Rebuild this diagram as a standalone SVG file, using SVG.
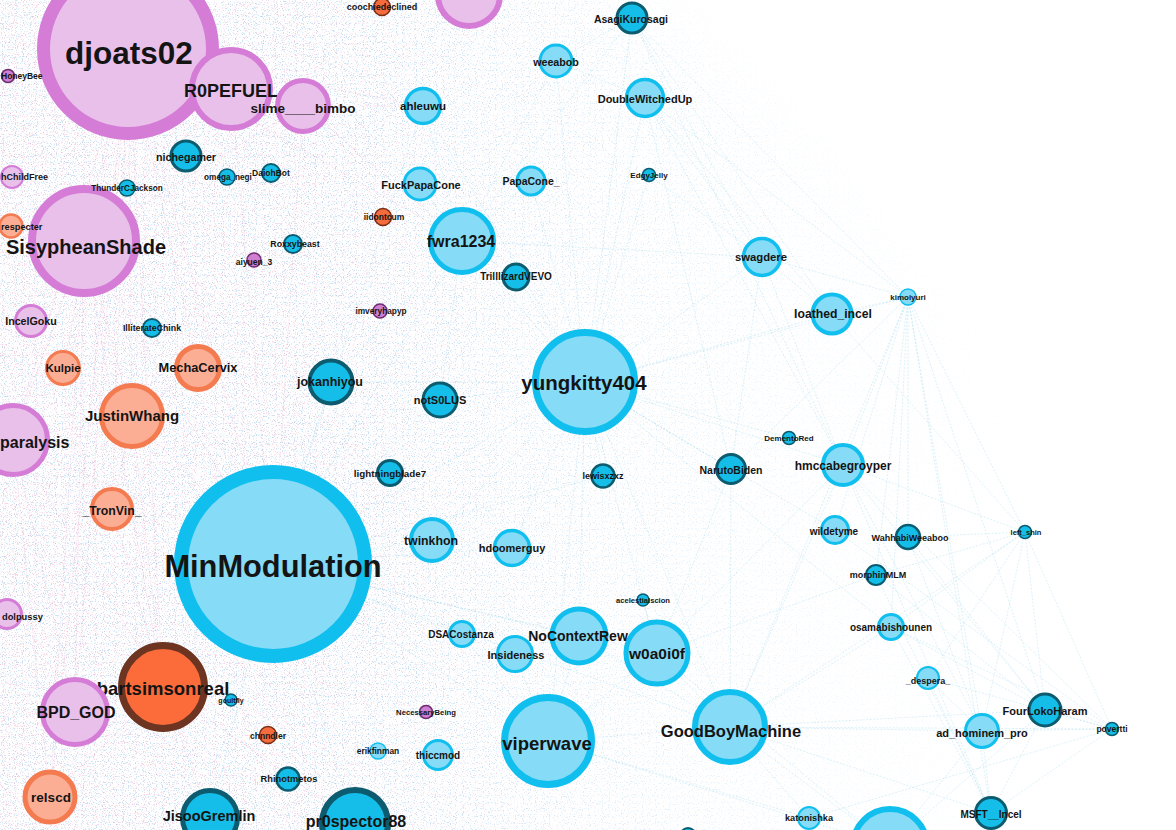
<svg xmlns="http://www.w3.org/2000/svg" width="1176" height="830" viewBox="0 0 1176 830">
<style>
text{font-family:"Liberation Sans",Arial,sans-serif;font-weight:bold;fill:#141414;text-anchor:middle}
text.s{text-anchor:start}
.lb{fill:#86dbf7;stroke:#11bfee}
.db{fill:#15bee8;stroke:#0c5b6f}
.pu{fill:#e9c0ea;stroke:#d47cd6}
.or{fill:#fcae95;stroke:#f47a4f}
.ro{fill:#f46c3d;stroke:#7b2e14}
.sp{fill:#cf7fd1;stroke:#6d2c6f}
.e{stroke:#6fc2e0;stroke-width:0.6;stroke-opacity:0.4;stroke-dasharray:2 1.5;fill:none}
.p{stroke:#e08cc0;stroke-width:0.6;stroke-opacity:0.4;stroke-dasharray:2 1.5;fill:none}
</style>
<defs>
<filter id="fP" filterUnits="userSpaceOnUse" x="0" y="0" width="1176" height="830" color-interpolation-filters="sRGB">
<feTurbulence type="fractalNoise" baseFrequency="0.9" numOctaves="1" seed="7"/>
<feColorMatrix type="matrix" values="0 0 0 0 0.9  0 0 0 0 0.5  0 0 0 0 0.68  9 0 0 0 -5.3"/>
</filter>
<filter id="fB" filterUnits="userSpaceOnUse" x="0" y="0" width="1176" height="830" color-interpolation-filters="sRGB">
<feTurbulence type="fractalNoise" baseFrequency="0.85" numOctaves="1" seed="21"/>
<feColorMatrix type="matrix" values="0 0 0 0 0.3  0 0 0 0 0.62  0 0 0 0 0.85  0 9 0 0 -5.2"/>
</filter>
<filter id="blur" x="-20%" y="-20%" width="140%" height="140%"><feGaussianBlur stdDeviation="35"/></filter>
<linearGradient id="gP" x1="0" y1="0" x2="1" y2="0">
<stop offset="0" stop-color="#fff" stop-opacity="0.9"/>
<stop offset="0.25" stop-color="#fff" stop-opacity="0.75"/>
<stop offset="0.4" stop-color="#fff" stop-opacity="0.3"/>
<stop offset="0.55" stop-color="#fff" stop-opacity="0.05"/>
<stop offset="0.7" stop-color="#fff" stop-opacity="0"/>
</linearGradient>
<linearGradient id="gB" x1="0" y1="0" x2="1" y2="0">
<stop offset="0" stop-color="#fff" stop-opacity="0.75"/>
<stop offset="0.35" stop-color="#fff" stop-opacity="0.8"/>
<stop offset="0.55" stop-color="#fff" stop-opacity="0.45"/>
<stop offset="0.75" stop-color="#fff" stop-opacity="0.15"/>
<stop offset="0.92" stop-color="#fff" stop-opacity="0"/>
</linearGradient>
<mask id="mP" maskUnits="userSpaceOnUse" x="0" y="0" width="1176" height="830">
<rect width="1176" height="830" fill="url(#gP)"/>
</mask>
<mask id="mB" maskUnits="userSpaceOnUse" x="0" y="0" width="1176" height="830">
<path d="M-60,-60 L560,-60 L780,120 L1010,330 L1150,720 L1080,900 L-60,900 Z" fill="url(#gB)" filter="url(#blur)"/>
</mask>
</defs>
<rect width="1176" height="830" fill="#fff"/>
<g id="haze">
<rect width="1176" height="830" filter="url(#fB)" mask="url(#mB)" opacity="0.38"/>
<rect width="1176" height="830" filter="url(#fP)" mask="url(#mP)" opacity="0.36"/>
</g>
<g id="connectors">
<line class="e" x1="908" y1="297" x2="832" y2="314"/>
<line class="e" x1="908" y1="297" x2="843" y2="465"/>
<line class="e" x1="908" y1="297" x2="908" y2="537"/>
<line class="e" x1="908" y1="297" x2="876" y2="575"/>
<line class="e" x1="908" y1="297" x2="1045" y2="710"/>
<line class="e" x1="908" y1="297" x2="982" y2="731"/>
<line class="e" x1="908" y1="297" x2="762" y2="257"/>
<line class="e" x1="908" y1="297" x2="585" y2="382"/>
<line class="e" x1="908" y1="297" x2="1025" y2="532"/>
<line class="e" x1="908" y1="297" x2="991" y2="813"/>
<line class="e" x1="908" y1="297" x2="891" y2="627"/>
<line class="e" x1="908" y1="297" x2="835" y2="530"/>
<line class="e" x1="908" y1="297" x2="731" y2="469"/>
<line class="e" x1="908" y1="297" x2="730" y2="727"/>
<line class="e" x1="908" y1="297" x2="645" y2="98"/>
<line class="e" x1="908" y1="297" x2="632" y2="18"/>
<line class="e" x1="1025" y1="532" x2="908" y2="537"/>
<line class="e" x1="1025" y1="532" x2="843" y2="465"/>
<line class="e" x1="1025" y1="532" x2="1045" y2="710"/>
<line class="e" x1="1025" y1="532" x2="982" y2="731"/>
<line class="e" x1="1025" y1="532" x2="876" y2="575"/>
<line class="e" x1="1025" y1="532" x2="730" y2="727"/>
<line class="e" x1="1025" y1="532" x2="1112" y2="729"/>
<line class="e" x1="1025" y1="532" x2="891" y2="627"/>
<line class="e" x1="1025" y1="532" x2="928" y2="678"/>
<line class="e" x1="1025" y1="532" x2="832" y2="314"/>
<line class="e" x1="1112" y1="729" x2="1045" y2="710"/>
<line class="e" x1="1112" y1="729" x2="982" y2="731"/>
<line class="e" x1="1112" y1="729" x2="991" y2="813"/>
<line class="e" x1="1112" y1="729" x2="891" y2="627"/>
<line class="e" x1="1112" y1="729" x2="928" y2="678"/>
<line class="e" x1="1112" y1="729" x2="730" y2="727"/>
<line class="e" x1="1112" y1="729" x2="835" y2="530"/>
<line class="e" x1="1112" y1="729" x2="843" y2="465"/>
<line class="e" x1="1112" y1="729" x2="809" y2="818"/>
<line class="e" x1="762" y1="257" x2="632" y2="18"/>
<line class="e" x1="762" y1="257" x2="645" y2="98"/>
<line class="e" x1="762" y1="257" x2="585" y2="382"/>
<line class="e" x1="762" y1="257" x2="832" y2="314"/>
<line class="e" x1="762" y1="257" x2="462" y2="241"/>
<line class="e" x1="762" y1="257" x2="649" y2="175"/>
<line class="e" x1="762" y1="257" x2="843" y2="465"/>
<line class="e" x1="762" y1="257" x2="731" y2="469"/>
<line class="e" x1="632" y1="18" x2="832" y2="314"/>
<line class="e" x1="632" y1="18" x2="585" y2="382"/>
<line class="e" x1="632" y1="18" x2="462" y2="241"/>
<line class="e" x1="632" y1="18" x2="843" y2="465"/>
<line class="e" x1="645" y1="98" x2="832" y2="314"/>
<line class="e" x1="645" y1="98" x2="843" y2="465"/>
<line class="e" x1="645" y1="98" x2="585" y2="382"/>
<line class="e" x1="645" y1="98" x2="731" y2="469"/>
<line class="e" x1="585" y1="382" x2="462" y2="241"/>
<line class="e" x1="585" y1="382" x2="440" y2="400"/>
<line class="e" x1="585" y1="382" x2="331" y2="382"/>
<line class="e" x1="585" y1="382" x2="273" y2="564"/>
<line class="e" x1="585" y1="382" x2="731" y2="469"/>
<line class="e" x1="585" y1="382" x2="603" y2="476"/>
<line class="e" x1="585" y1="382" x2="432" y2="540"/>
<line class="e" x1="585" y1="382" x2="512" y2="548"/>
<line class="e" x1="585" y1="382" x2="579" y2="636"/>
<line class="e" x1="585" y1="382" x2="657" y2="653"/>
<line class="e" x1="585" y1="382" x2="730" y2="727"/>
<line class="e" x1="585" y1="382" x2="548" y2="741"/>
<line class="e" x1="585" y1="382" x2="835" y2="530"/>
<line class="e" x1="585" y1="382" x2="789" y2="438"/>
<line class="e" x1="585" y1="382" x2="843" y2="465"/>
<line class="e" x1="585" y1="382" x2="832" y2="314"/>
<line class="e" x1="585" y1="382" x2="891" y2="627"/>
<line class="e" x1="273" y1="564" x2="331" y2="382"/>
<line class="e" x1="273" y1="564" x2="440" y2="400"/>
<line class="e" x1="273" y1="564" x2="432" y2="540"/>
<line class="e" x1="273" y1="564" x2="548" y2="741"/>
<line class="e" x1="273" y1="564" x2="579" y2="636"/>
<line class="e" x1="273" y1="564" x2="657" y2="653"/>
<line class="e" x1="273" y1="564" x2="730" y2="727"/>
<line class="e" x1="273" y1="564" x2="462" y2="634"/>
<line class="e" x1="273" y1="564" x2="462" y2="241"/>
<line class="e" x1="273" y1="564" x2="423" y2="106"/>
<line class="e" x1="273" y1="564" x2="355" y2="823"/>
<line class="e" x1="273" y1="564" x2="210" y2="818"/>
<line class="e" x1="273" y1="564" x2="512" y2="548"/>
<line class="e" x1="273" y1="564" x2="603" y2="476"/>
<line class="e" x1="730" y1="727" x2="657" y2="653"/>
<line class="e" x1="730" y1="727" x2="579" y2="636"/>
<line class="e" x1="730" y1="727" x2="991" y2="813"/>
<line class="e" x1="730" y1="727" x2="809" y2="818"/>
<line class="e" x1="730" y1="727" x2="982" y2="731"/>
<line class="e" x1="730" y1="727" x2="1045" y2="710"/>
<line class="e" x1="730" y1="727" x2="891" y2="627"/>
<line class="e" x1="730" y1="727" x2="890" y2="846"/>
<line class="e" x1="730" y1="727" x2="548" y2="741"/>
<line class="e" x1="730" y1="727" x2="731" y2="469"/>
<line class="e" x1="730" y1="727" x2="843" y2="465"/>
<line class="e" x1="548" y1="741" x2="579" y2="636"/>
<line class="e" x1="548" y1="741" x2="657" y2="653"/>
<line class="e" x1="548" y1="741" x2="809" y2="818"/>
<line class="e" x1="548" y1="741" x2="890" y2="846"/>
<line class="e" x1="548" y1="741" x2="515" y2="654"/>
<line class="e" x1="548" y1="741" x2="462" y2="634"/>
<line class="e" x1="657" y1="653" x2="731" y2="469"/>
<line class="e" x1="657" y1="653" x2="843" y2="465"/>
<line class="e" x1="657" y1="653" x2="643" y2="600"/>
<line class="e" x1="657" y1="653" x2="876" y2="575"/>
<line class="e" x1="657" y1="653" x2="890" y2="846"/>
<line class="e" x1="462" y1="241" x2="556" y2="61"/>
<line class="e" x1="462" y1="241" x2="531" y2="181"/>
<line class="e" x1="462" y1="241" x2="420" y2="184"/>
<line class="e" x1="462" y1="241" x2="423" y2="106"/>
<line class="e" x1="462" y1="241" x2="516" y2="277"/>
<line class="e" x1="462" y1="241" x2="440" y2="400"/>
<line class="e" x1="462" y1="241" x2="331" y2="382"/>
<line class="e" x1="556" y1="61" x2="632" y2="18"/>
<line class="e" x1="556" y1="61" x2="645" y2="98"/>
<line class="e" x1="556" y1="61" x2="585" y2="382"/>
<line class="e" x1="531" y1="181" x2="585" y2="382"/>
<line class="e" x1="423" y1="106" x2="585" y2="382"/>
<line class="e" x1="649" y1="175" x2="585" y2="382"/>
<line class="e" x1="516" y1="277" x2="585" y2="382"/>
<line class="e" x1="843" y1="465" x2="1045" y2="710"/>
<line class="e" x1="843" y1="465" x2="982" y2="731"/>
<line class="e" x1="843" y1="465" x2="991" y2="813"/>
<line class="e" x1="908" y1="537" x2="1045" y2="710"/>
<line class="e" x1="908" y1="537" x2="982" y2="731"/>
<line class="e" x1="876" y1="575" x2="991" y2="813"/>
<line class="e" x1="876" y1="575" x2="1045" y2="710"/>
<line class="e" x1="891" y1="627" x2="1045" y2="710"/>
<line class="e" x1="891" y1="627" x2="991" y2="813"/>
<line class="e" x1="928" y1="678" x2="982" y2="731"/>
<line class="e" x1="928" y1="678" x2="991" y2="813"/>
<line class="e" x1="982" y1="731" x2="991" y2="813"/>
<line class="e" x1="982" y1="731" x2="890" y2="846"/>
<line class="e" x1="1045" y1="710" x2="991" y2="813"/>
<line class="e" x1="1045" y1="710" x2="890" y2="846"/>
<line class="p" x1="128" y1="49" x2="84" y2="241"/>
<line class="p" x1="128" y1="49" x2="132" y2="416"/>
<line class="p" x1="128" y1="49" x2="163" y2="687"/>
<line class="p" x1="128" y1="49" x2="75" y2="712"/>
<line class="p" x1="128" y1="49" x2="13" y2="440"/>
<line class="p" x1="128" y1="49" x2="231" y2="89"/>
<line class="p" x1="128" y1="49" x2="303" y2="106"/>
<line class="p" x1="128" y1="49" x2="273" y2="564"/>
<line class="p" x1="128" y1="49" x2="198" y2="368"/>
<line class="p" x1="128" y1="49" x2="112" y2="509"/>
<line class="p" x1="128" y1="49" x2="63" y2="368"/>
<line class="p" x1="128" y1="49" x2="50" y2="797"/>
<line class="p" x1="128" y1="49" x2="462" y2="241"/>
<line class="p" x1="128" y1="49" x2="423" y2="106"/>
<line class="p" x1="84" y1="241" x2="132" y2="416"/>
<line class="p" x1="84" y1="241" x2="163" y2="687"/>
<line class="p" x1="84" y1="241" x2="75" y2="712"/>
<line class="p" x1="84" y1="241" x2="13" y2="440"/>
<line class="p" x1="84" y1="241" x2="273" y2="564"/>
<line class="p" x1="84" y1="241" x2="198" y2="368"/>
<line class="p" x1="84" y1="241" x2="231" y2="89"/>
<line class="p" x1="84" y1="241" x2="303" y2="106"/>
<line class="p" x1="84" y1="241" x2="50" y2="797"/>
<line class="p" x1="163" y1="687" x2="75" y2="712"/>
<line class="p" x1="163" y1="687" x2="50" y2="797"/>
<line class="p" x1="163" y1="687" x2="273" y2="564"/>
<line class="p" x1="163" y1="687" x2="132" y2="416"/>
<line class="p" x1="163" y1="687" x2="13" y2="440"/>
<line class="p" x1="163" y1="687" x2="112" y2="509"/>
<line class="p" x1="163" y1="687" x2="210" y2="818"/>
<line class="p" x1="163" y1="687" x2="355" y2="823"/>
<line class="p" x1="132" y1="416" x2="198" y2="368"/>
<line class="p" x1="132" y1="416" x2="13" y2="440"/>
<line class="p" x1="132" y1="416" x2="273" y2="564"/>
<line class="p" x1="132" y1="416" x2="63" y2="368"/>
<line class="p" x1="132" y1="416" x2="112" y2="509"/>
<line class="p" x1="231" y1="89" x2="303" y2="106"/>
<line class="p" x1="231" y1="89" x2="273" y2="564"/>
<line class="p" x1="303" y1="106" x2="273" y2="564"/>
<line class="p" x1="303" y1="106" x2="462" y2="241"/>
<line class="p" x1="303" y1="106" x2="423" y2="106"/>
<line class="p" x1="13" y1="440" x2="75" y2="712"/>
<line class="p" x1="13" y1="440" x2="50" y2="797"/>
<line class="p" x1="13" y1="440" x2="273" y2="564"/>
</g>
<g id="n-MinModulation"><circle class="lb" cx="273" cy="564" r="92" stroke-width="14"/><text x="273" y="577" font-size="30.8">MinModulation</text></g>
<g id="n-djoats02"><circle class="pu" cx="128" cy="49" r="84.5" stroke-width="13"/><text x="129" y="64" font-size="31.5">djoats02</text></g>
<g id="n-SisypheanShade"><circle class="pu" cx="84" cy="241" r="52" stroke-width="8"/><text x="86" y="254" font-size="20">SisypheanShade</text></g>
<g id="n-yungkitty404"><circle class="lb" cx="585" cy="382" r="49.5" stroke-width="7"/><text x="584" y="390" font-size="20.5">yungkitty404</text></g>
<g id="n-viperwave"><circle class="lb" cx="548" cy="741" r="43.5" stroke-width="7"/><text x="547" y="750" font-size="18.5">viperwave</text></g>
<g id="n-bartsimsonreal"><circle cx="163" cy="687" r="41.5" stroke-width="7" fill="#fc6c3a" stroke="#6d3422"/><text x="163" y="695" font-size="18.5">bartsimsonreal</text></g>
<g id="n-R0PEFUEL"><circle class="pu" cx="231" cy="89" r="39" stroke-width="6"/><text x="231" y="97" font-size="18">R0PEFUEL</text></g>
<g id="n-GoodBoyMachine"><circle class="lb" cx="730" cy="727" r="35" stroke-width="6"/><text x="731" y="737" font-size="16.5">GoodBoyMachine</text></g>
<g id="n-pr0spector88"><circle class="db" cx="355" cy="823" r="33" stroke-width="6"/><text x="356" y="827" font-size="16">pr0spector88</text></g>
<g id="n-paralysis"><circle class="pu" cx="13" cy="440" r="34.5" stroke-width="5"/><text class="s" x="0" y="448" font-size="16">paralysis</text></g>
<g id="n-BPD_GOD"><circle class="pu" cx="75" cy="712" r="32.5" stroke-width="5"/><text x="76" y="718" font-size="16">BPD_GOD</text></g>
<g id="n-fwra1234"><circle class="lb" cx="462" cy="241" r="31.5" stroke-width="5"/><text x="461" y="247" font-size="16">fwra1234</text></g>
<g id="n-w0a0i0f"><circle class="lb" cx="657" cy="653" r="31" stroke-width="5"/><text x="657" y="659" font-size="15.5">w0a0i0f</text></g>
<g id="n-JustinWhang"><circle class="or" cx="132" cy="416" r="30.5" stroke-width="5"/><text x="132" y="421" font-size="15">JustinWhang</text></g>
<g id="n-bottom-big"><circle class="lb" cx="890" cy="846" r="37" stroke-width="6"/></g>
<g id="n-JisooGremlin"><circle class="db" cx="210" cy="818" r="27.5" stroke-width="5"/><text x="209" y="821" font-size="14.5">JisooGremlin</text></g>
<g id="n-NoContextRew"><circle class="lb" cx="579" cy="636" r="27" stroke-width="5"/><text x="578" y="641" font-size="14">NoContextRew</text></g>
<g id="n-top-purple"><circle class="pu" cx="469" cy="-5" r="31" stroke-width="6"/></g>
<g id="n-relscd"><circle class="or" cx="50" cy="797" r="25" stroke-width="5"/><text x="51" y="802" font-size="13.5">relscd</text></g>
<g id="n-slime____bimbo"><circle class="pu" cx="303" cy="106" r="25.5" stroke-width="5"/><text x="303" y="113" font-size="13.5">slime____bimbo</text></g>
<g id="n-MechaCervix"><circle class="or" cx="198" cy="368" r="21.5" stroke-width="5"/><text x="198" y="372" font-size="12.8">MechaCervix</text></g>
<g id="n-jokanhiyou"><circle class="db" cx="331" cy="382" r="21.5" stroke-width="4"/><text x="330" y="386" font-size="12.5">jokanhiyou</text></g>
<g id="n-twinkhon"><circle class="lb" cx="432" cy="540" r="21" stroke-width="4"/><text x="431" y="545" font-size="12.3">twinkhon</text></g>
<g id="n-_TronVin_"><circle class="or" cx="112" cy="509" r="20" stroke-width="4"/><text x="112" y="515" font-size="12.3">_TronVin_</text></g>
<g id="n-hmccabegroyper"><circle class="lb" cx="843" cy="465" r="20" stroke-width="4"/><text x="843" y="470" font-size="12">hmccabegroyper</text></g>
<g id="n-loathed_incel"><circle class="lb" cx="832" cy="314" r="19.5" stroke-width="4"/><text x="833" y="318" font-size="12.2">loathed_incel</text></g>
<g id="n-DoubleWitchedUp"><circle class="lb" cx="645" cy="98" r="18.5" stroke-width="3.5"/><text x="645" y="103" font-size="11">DoubleWitchedUp</text></g>
<g id="n-swagdere"><circle class="lb" cx="762" cy="257" r="18.5" stroke-width="3.5"/><text x="761" y="261" font-size="11.3">swagdere</text></g>
<g id="n-hdoomerguy"><circle class="lb" cx="512" cy="548" r="17.5" stroke-width="3.5"/><text x="512" y="552" font-size="11">hdoomerguy</text></g>
<g id="n-ahleuwu"><circle class="lb" cx="423" cy="106" r="17.5" stroke-width="3.5"/><text x="423" y="110" font-size="11.5">ahleuwu</text></g>
<g id="n-Insideness"><circle class="lb" cx="515" cy="654" r="17.5" stroke-width="3"/><text x="516" y="659" font-size="11">Insideness</text></g>
<g id="n-notS0LUS"><circle class="db" cx="440" cy="400" r="17" stroke-width="3"/><text x="440" y="404" font-size="11">notS0LUS</text></g>
<g id="n-ad_hominem_pro"><circle class="lb" cx="982" cy="731" r="16.5" stroke-width="3"/><text x="982" y="737" font-size="11">ad_hominem_pro</text></g>
<g id="n-FourLokoHaram"><circle class="db" cx="1045" cy="710" r="16" stroke-width="3"/><text x="1045" y="715" font-size="11">FourLokoHaram</text></g>
<g id="n-Kulpie"><circle class="or" cx="63" cy="368" r="16.5" stroke-width="3"/><text x="63" y="372" font-size="11.5">Kulpie</text></g>
<g id="n-FuckPapaCone"><circle class="lb" cx="420" cy="184" r="16" stroke-width="3"/><text x="421" y="189" font-size="11">FuckPapaCone</text></g>
<g id="n-IncelGoku"><circle class="pu" cx="31" cy="321" r="15.5" stroke-width="3"/><text x="31" y="325" font-size="10.7">IncelGoku</text></g>
<g id="n-nichegamer"><circle class="db" cx="186" cy="156" r="15" stroke-width="3"/><text x="186" y="161" font-size="10.7">nichegamer</text></g>
<g id="n-weeabob"><circle class="lb" cx="556" cy="61" r="16" stroke-width="3"/><text x="556" y="66" font-size="10.7">weeabob</text></g>
<g id="n-AsagiKurosagi"><circle class="db" cx="632" cy="18" r="15" stroke-width="3"/><text x="631" y="23" font-size="10.5">AsagiKurosagi</text></g>
<g id="n-MSFT__Incel"><circle class="db" cx="991" cy="813" r="15.5" stroke-width="3"/><text x="991" y="818" font-size="10">MSFT__Incel</text></g>
<g id="n-NarutoBiden"><circle class="db" cx="731" cy="469" r="14.5" stroke-width="3"/><text x="731" y="474" font-size="10.5">NarutoBiden</text></g>
<g id="n-thiccmod"><circle class="lb" cx="438" cy="755" r="14.5" stroke-width="3"/><text x="438" y="759" font-size="10">thiccmod</text></g>
<g id="n-PapaCone_"><circle class="lb" cx="531" cy="181" r="14" stroke-width="3"/><text x="531" y="185" font-size="10.5">PapaCone_</text></g>
<g id="n-wildetyme"><circle class="lb" cx="835" cy="530" r="13.5" stroke-width="3"/><text x="834" y="535" font-size="10">wildetyme</text></g>
<g id="n-TrilllizardVEVO"><circle class="db" cx="516" cy="277" r="13" stroke-width="3"/><text x="516" y="280" font-size="10">TrilllizardVEVO</text></g>
<g id="n-dolpussy"><circle class="pu" cx="7" cy="614" r="14.5" stroke-width="3"/><text class="s" x="2" y="620" font-size="9.3">dolpussy</text></g>
<g id="n-DSACostanza"><circle class="lb" cx="462" cy="634" r="12.5" stroke-width="3"/><text x="461" y="638" font-size="10">DSACostanza</text></g>
<g id="n-lightningblade7"><circle class="db" cx="390" cy="473" r="12.5" stroke-width="3"/><text x="390" y="477" font-size="9.8">lightningblade7</text></g>
<g id="n-osamabishounen"><circle class="lb" cx="891" cy="627" r="12.5" stroke-width="3"/><text x="891" y="631" font-size="10">osamabishounen</text></g>
<g id="n-respecter"><circle class="or" cx="11" cy="226" r="11.5" stroke-width="2.5"/><text class="s" x="1" y="230" font-size="9.2">respecter</text></g>
<g id="n-Rhinotmetos"><circle class="db" cx="288" cy="779" r="11.5" stroke-width="2.5"/><text x="289" y="782" font-size="9.3">Rhinotmetos</text></g>
<g id="n-lewisxzxz"><circle class="db" cx="603" cy="476" r="11.5" stroke-width="2.5"/><text x="603" y="479" font-size="9">lewisxzxz</text></g>
<g id="n-WahhabiWeeaboo"><circle class="db" cx="908" cy="537" r="12" stroke-width="2.5"/><text x="910" y="541" font-size="9">WahhabiWeeaboo</text></g>
<g id="n-hChildFree"><circle class="pu" cx="12" cy="177" r="11" stroke-width="2"/><text class="s" x="1" y="180" font-size="9">hChildFree</text></g>
<g id="n-katonishka"><circle class="lb" cx="809" cy="818" r="11" stroke-width="2"/><text x="809" y="821" font-size="9.2">katonishka</text></g>
<g id="n-_despera_"><circle class="lb" cx="928" cy="678" r="11" stroke-width="2"/><text x="928" y="684" font-size="9">_despera_</text></g>
<g id="n-morphinMLM"><circle class="db" cx="876" cy="575" r="10" stroke-width="2"/><text x="878" y="578" font-size="9">morphinMLM</text></g>
<g id="n-DaiohBot"><circle class="db" cx="271" cy="173" r="9" stroke-width="2"/><text x="271" y="176" font-size="8.5">DaiohBot</text></g>
<g id="n-Roxxybeast"><circle class="db" cx="293" cy="244" r="9" stroke-width="2"/><text x="295" y="247" font-size="8.8">Roxxybeast</text></g>
<g id="n-IlliterateChink"><circle class="db" cx="152" cy="328" r="9" stroke-width="2"/><text x="152" y="331" font-size="8.8">IlliterateChink</text></g>
<g id="n-coochiedeclined"><circle class="ro" cx="382" cy="7" r="8.5" stroke-width="1.5"/><text x="382" y="10" font-size="9">coochiedeclined</text></g>
<g id="n-iidontcum"><circle class="ro" cx="383" cy="217" r="8.5" stroke-width="1.5"/><text x="384" y="220" font-size="8.5">iidontcum</text></g>
<g id="n-chnndler"><circle class="ro" cx="268" cy="735" r="8.5" stroke-width="1.5"/><text x="268" y="739" font-size="8.5">chnndler</text></g>
<g id="n-ThunderCJackson"><circle class="db" cx="127" cy="188" r="8" stroke-width="1.5"/><text x="127" y="191" font-size="8.2">ThunderCJackson</text></g>
<g id="n-omega_negi"><circle class="db" cx="227" cy="177" r="8" stroke-width="1.5"/><text x="228" y="180" font-size="8.2">omega_negi</text></g>
<g id="n-kimoiyuri"><circle class="lb" cx="908" cy="297" r="8" stroke-width="1.5"/><text x="908" y="300" font-size="8">kimoiyuri</text></g>
<g id="n-erikfinman"><circle class="lb" cx="378" cy="751" r="8" stroke-width="1.5"/><text x="378" y="754" font-size="8.4">erikfinman</text></g>
<g id="n-bottom-small"><circle class="db" cx="688" cy="836" r="8" stroke-width="2"/></g>
<g id="n-imveryhapyp"><circle class="sp" cx="380" cy="311" r="7" stroke-width="1.5"/><text x="381" y="314" font-size="8.3">imveryhapyp</text></g>
<g id="n-aiyuen_3"><circle class="sp" cx="254" cy="260" r="7" stroke-width="1.5"/><text x="254" y="265" font-size="8.5">aiyuen_3</text></g>
<g id="n-EdgyJelly"><circle class="db" cx="649" cy="175" r="6.5" stroke-width="1.5"/><text x="649" y="178" font-size="8">EdgyJelly</text></g>
<g id="n-left_shin"><circle class="db" cx="1025" cy="532" r="6.5" stroke-width="1.5"/><text x="1026" y="535" font-size="7.5">left_shin</text></g>
<g id="n-HoneyBee"><circle class="sp" cx="8" cy="76" r="6.5" stroke-width="1.5"/><text class="s" x="1" y="79" font-size="8.5">HoneyBee</text></g>
<g id="n-DementoRed"><circle class="db" cx="789" cy="438" r="6.5" stroke-width="1.5"/><text x="789" y="441" font-size="8">DementoRed</text></g>
<g id="n-NecessaryBeing"><circle class="sp" cx="426" cy="712" r="6.5" stroke-width="1.5"/><text x="426" y="715" font-size="7.7">NecessaryBeing</text></g>
<g id="n-acelestialscion"><circle class="db" cx="643" cy="600" r="6" stroke-width="1.5"/><text x="643" y="603" font-size="7.6">acelestialscion</text></g>
<g id="n-goultfly"><circle class="db" cx="231" cy="700" r="6" stroke-width="1.5"/><text x="231" y="703" font-size="7">goultfly</text></g>
<g id="n-povertti"><circle class="db" cx="1112" cy="729" r="6.5" stroke-width="1.5"/><text x="1112" y="732" font-size="8.5">povertti</text></g>
</svg>
